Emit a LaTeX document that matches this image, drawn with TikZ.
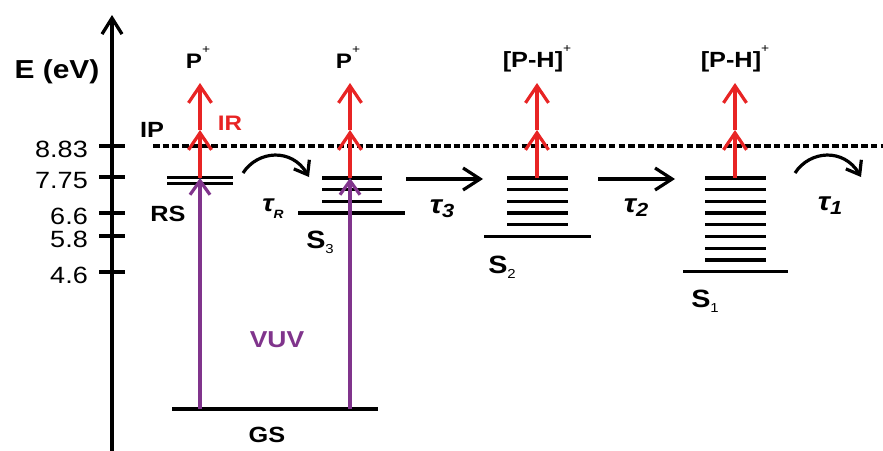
\documentclass[tikz,border=0pt]{standalone}
\usepackage{fontspec}
\setmainfont[FakeStretch=1.15]{Liberation Sans}
\usetikzlibrary{arrows.meta}
\definecolor{irred}{RGB}{232,36,36}
\definecolor{vuvpurple}{RGB}{128,52,140}
\newcommand\fsz[1]{\fontsize{#1}{#1}\selectfont}
\newcommand\supplus{\raisebox{15pt}{\normalfont\fsz{12}+}}
\newcommand\subnum[1]{\raisebox{-5pt}{\normalfont\fsz{13}#1}}
\newcommand\tausub[1]{{\bfseries\itshape\fsz{26}τ\raisebox{-4pt}{\fsz{19}#1}}}
\begin{document}
\begin{tikzpicture}[x=1pt,y=-1pt,
  lev/.style={line width=3.3pt},
  thinlev/.style={line width=2.6pt},
  lbl/.style={anchor=base,inner sep=0pt,font=\bfseries\fsz{22}},
  ticklbl/.style={anchor=base east,inner sep=0pt,font=\fsz{23.5}},
  bigtip/.style={-{Straight Barb[length=17pt,width=23pt]}},
  irarrow/.style={line width=3.2pt,draw=irred,bigtip},
  vuvarrow/.style={line width=3.2pt,draw=vuvpurple,-{Straight Barb[length=14pt,width=20pt]}},
  harrow/.style={line width=3.2pt,-{Straight Barb[length=17pt,width=22pt]}},
  carrow/.style={line width=3.2pt,-{Straight Barb[length=12pt,width=18pt]}}]
\useasboundingbox (0,0) rectangle (883,450);
% axis
\coordinate (axbot) at (112,455);
\coordinate (axtop) at (112,15);
\draw[line width=3.3pt,-{Straight Barb[length=16pt,width=20pt]}] (axbot) -- (axtop);
\node[anchor=base,inner sep=0pt,font=\bfseries\fsz{26}] (elabel) at (57,78) {E (eV)};
\foreach \y/\t [count=\i] in {146/8.83,177/7.75,213/6.6,236/5.8,272/4.6}{
  \coordinate (tka\i) at (99,\y);
  \coordinate (tkb\i) at (125,\y);
  \draw[lev] (tka\i) -- (tkb\i);
  \node[ticklbl] (tl\i) at (88,\y+11) {\t};
}
% IP line
\coordinate (ipa) at (153,146);
\coordinate (ipb) at (883,146);
\draw[line width=3.3pt,dash pattern=on 6.5pt off 3.2pt] (ipa) -- (ipb);
% RS levels
\draw[thinlev] (167,177.5) -- (233,177.5);
\draw[thinlev] (167,183.5) -- (233,183.5);
% S3 levels
\foreach \k in {0,1,2}{\draw[lev] (322,178+11.7*\k) -- (382,178+11.7*\k);}
\draw[lev] (298,213) -- (405,213);
% S2 levels
\foreach \k in {0,...,4}{\draw[lev] (507,178+11.7*\k) -- (568,178+11.7*\k);}
\draw[lev] (484,236.5) -- (591,236.5);
% S1 levels
\foreach \k in {0,...,7}{\draw[lev] (705,178+11.7*\k) -- (766,178+11.7*\k);}
\draw[lev] (683,271.6) -- (788,271.6);
% GS
\draw[lev] (172,409) -- (378,409);
% VUV arrows
\coordinate (gsa) at (200,409);
\coordinate (gsb) at (350,409);
\coordinate (rstop) at (200,178);
\coordinate (sthreetop) at (350,178);
\draw[vuvarrow] (gsa) -- (rstop);
\draw[vuvarrow] (gsb) -- (sthreetop);
% IR arrows
\foreach \x/\n in {200/a,350/b,537/c,735/d}{
  \coordinate (irs\n) at (\x,178);
  \coordinate (irm\n) at (\x,130);
  \coordinate (irt\n) at (\x,83);
  \draw[irarrow] (irs\n) -- (irm\n);
  \draw[irarrow] (irm\n) -- (irt\n);
}
% horizontal arrows
\coordinate (hta) at (406,179);
\coordinate (htb) at (483,179);
\coordinate (hsa) at (598,179);
\coordinate (hsb) at (675,179);
\draw[harrow] (hta) -- (htb);
\draw[harrow] (hsa) -- (hsb);
% curved arrows
\coordinate (cra) at (243,173);
\coordinate (crb) at (309,177);
\coordinate (coa) at (795,173);
\coordinate (cob) at (861,177);
\draw[carrow] (cra) .. controls (258,150) and (292,148) .. (crb);
\draw[carrow] (coa) .. controls (810,150) and (844,148) .. (cob);
% labels
\node[lbl,font=\bfseries\fsz{21}] (pa) at (198,68) {P\supplus};
\node[lbl,font=\bfseries\fsz{21}] (pb) at (348,68) {P\supplus};
\node[lbl] (pha) at (537,67) {[P-H]\supplus};
\node[lbl] (phb) at (735,67) {[P-H]\supplus};
\node[lbl] (ip) at (152,137) {IP};
\node[lbl,font=\bfseries\fsz{21},text=irred] (ir) at (230,130) {IR};
\node[lbl] (rs) at (168,221) {RS};
\node[lbl] (taur) at (273,211) {{\itshape\fsz{24}τ\raisebox{-7pt}{\fsz{12}R}}};
\node[lbl,font=\bfseries\fsz{25}] (sthree) at (320,248) {S\subnum{3}};
\node[lbl,font=\bfseries\fsz{23},text=vuvpurple] (vuv) at (277,347) {VUV};
\node[lbl] (gs) at (267,442) {GS};
\node[lbl] (tauthree) at (442,213) {\tausub{3}};
\node[lbl,font=\bfseries\fsz{25}] (stwo) at (502,273) {S\subnum{2}};
\node[lbl] (tautwo) at (636,212) {\tausub{2}};
\node[lbl,font=\bfseries\fsz{25}] (sone) at (705,307) {S\subnum{1}};
\node[lbl] (tauone) at (830,210) {\tausub{1}};
\end{tikzpicture}
\end{document}
